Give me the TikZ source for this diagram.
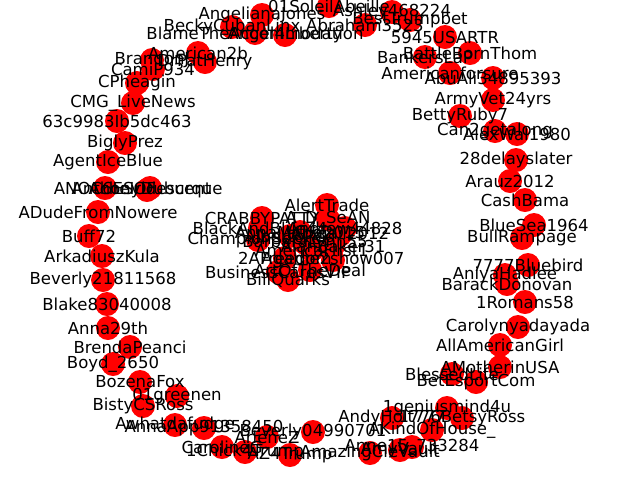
\documentclass[tikz,border=0pt]{standalone}
\usepackage{fontspec}
\setmainfont{DejaVu Sans}
\tikzset{
  dot/.style={circle,fill=red,draw=none,minimum size=18pt,inner sep=0pt},
  lbl/.style={font=\fontsize{12.4}{14}\selectfont,text=black,inner sep=0pt}
}
\def\nodelist{
133/103/CMG\_LiveNews,
137/83/CPheagin,
153/69/CamiP934,
152/60/BrandonJ,
198/53/American2b,
205/62/DrPatHenry,
232/27/BeckyCubanLinx,
255/33/BlameTheAccommodation,
262/15/AngelianaJones,
285/35/Angel4Liberty,
329/6/01SoleilAbeille,
392/12/Ashley468224,
410/20/BestTrumpbet,
365/25/Abraham3523,
445/37/5945USARTR,
470/53/BattleBornThom,
425/57/BankersLaP,
450/73/Americanforsure,
493/78/AbuAli34895393,
493/100/ArmyVet24yrs,
460/116/BettyRuby7,
495/131/Can2getalong,
517/134/AlexWal1980,
516/160/28delayslater,
510/181/Arauz2012,
525/200/CashBama,
534/225/BlueSea1964,
522/238/BullRampage,
528/265/7777Bluebird,
505/275/AniyaHadlee,
507/284/BarackDonovan,
525/302/1Romans58,
518/327/Carolynyadayada,
500/345/AllAmericanGirl,
500/367/AMotherinUSA,
452/374/BlessedLife,
476/382/BetEsportCom,
447/408/1geniusmind4u,
462/418/1776BetsyRoss,
392/418/AndyHolt777,
432/430/AKindOfHouse\_,
412/447/Anne15\_733284,
400/450/AmyVault,
370/453/AmazingCleVault,
313/432/Beverly04990701,
267/437/ArleneZ,
290/455/AZ4Trump,
245/452/1Chick4Trump,
222/447/CarolineG,
204/428/AnnaApp91358450,
175/425/Awhatdafudge,
177/396/01greenen,
143/406/BistyCSRoss,
140/382/BozenaFox,
113/364/Boyd\_2650,
130/347/BrendaPeanci,
108/328/Anna29th,
107/304/Blake83040008,
103/280/Beverly21811568,
102/256/ArkadiuszKula,
89/236/Buff72,
98/212/ADudeFromNowere,
105/188/ANOC6ESOF,
150/188/AcheIridescent,
147/190/AnthonyDuburque,
108/162/AgentIceBlue,
125/143/BiglyPrez,
117/121/63c9983Ib5dc463,
327/205/AlertTrade,
328/219/A\_D\_SeAN,
262/218/CRABBYPATTY,
260/228/BlackAndBlue44,
258/240/ChampionSeeker,
345/228/Andrew44828,
340/235/Abigail2012,
333/246/AlanBaker31,
300/232/AnnaMaria2015,
305/243/BarbaraLynn55,
290/236/AlbertoRed,
312/250/AmericaFirst1,
285/258/2AFreedom,
333/260/Agame2show007,
278/272/BusinessCaresVIP,
288/280/BillQuarks,
310/270/ArtOfTheDeal
}
\begin{document}
\begin{tikzpicture}[x=0.75pt,y=-0.75pt]
\useasboundingbox (0,0) rectangle (640,480);
\foreach \px/\py/\t [count=\i] in \nodelist {
  \node[dot] (n\i) at (\px,\py) {};
}
\foreach \px/\py/\t [count=\i] in \nodelist {
  \node[lbl] (t\i) at (n\i) {\t};
}
\end{tikzpicture}
\end{document}
